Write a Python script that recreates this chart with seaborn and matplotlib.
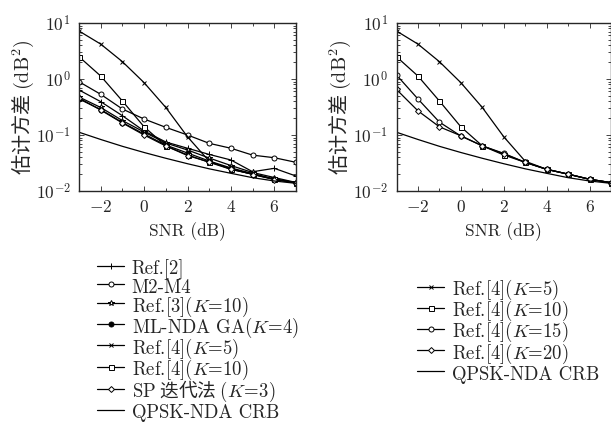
import numpy as np
import pandas as pd
import matplotlib
matplotlib.use('Agg')
import matplotlib.pyplot as plt
import seaborn as sns
from matplotlib.ticker import FixedLocator, FixedFormatter, LogLocator, NullFormatter

# SNR axis (dB)
snr = [-3, -2, -1, 0, 1, 2, 3, 4, 5, 6, 7]

# left panel
ref2 = [0.637, 0.394, 0.221, 0.118, 0.075, 0.058, 0.045, 0.0358, 0.0221, 0.0254, 0.0185]
m2m4 = [0.895, 0.533, 0.291, 0.193, 0.137, 0.100, 0.071, 0.058, 0.0437, 0.0393, 0.0325]
ref3_k10 = [0.477, 0.310, 0.181, 0.113, 0.072, 0.054, 0.0388, 0.0285, 0.0214, 0.0174, 0.0142]
mlnda_k4 = [0.440, 0.285, 0.167, 0.104, 0.066, 0.0477, 0.0343, 0.0258, 0.0205, 0.0164, 0.0141]
sp_k3 = [0.458, 0.279, 0.164, 0.100, 0.0637, 0.043, 0.033, 0.0252, 0.0197, 0.0160, 0.0139]

# Ref.[4] with different K (both panels)
ref4_k5 = [7.2, 4.2, 2.04, 0.86, 0.31, 0.093, 0.034, 0.0244, 0.0200, 0.0162, 0.0141]
ref4_k10 = [2.5, 1.13, 0.405, 0.140, 0.064, 0.044, 0.0325, 0.0244, 0.0200, 0.0162, 0.0141]
ref4_k15 = [1.18, 0.44, 0.170, 0.096, 0.064, 0.047, 0.0325, 0.0244, 0.0200, 0.0162, 0.0141]
ref4_k20 = [0.65, 0.27, 0.140, 0.097, 0.064, 0.046, 0.0325, 0.0244, 0.0200, 0.0162, 0.0141]

# QPSK-NDA CRB
crb = [0.112, 0.0832, 0.0628, 0.0487, 0.0384, 0.0307, 0.0249, 0.0207, 0.0173, 0.0151, 0.0137]

xtick_vals = [-2, 0, 2, 4, 6]
xtick_labels = ['$-2$', '$0$', '$2$', '$4$', '$6$']
ytick_vals = [1e-2, 1e-1, 1e0, 1e1]
ytick_labels = ['$10^{-2}$', '$10^{-1}$', '$10^{0}$', '$10^{1}$']

sns.set_style('ticks')
plt.rcParams['font.family'] = ['cmr10', 'DejaVu Serif']
plt.rcParams['mathtext.fontset'] = 'cm'
plt.rcParams['axes.formatter.use_mathtext'] = True
fs = 12.5
lfs = 13.5
cjk = ['Noto Sans CJK SC']

fig = plt.figure(figsize=(6.11, 4.23), dpi=100)
ax1 = fig.add_axes([79 / 611, 1 - 191 / 423, 217 / 611, 168 / 423])
ax2 = fig.add_axes([396.5 / 611, 1 - 191 / 423, 214.5 / 611, 168 / 423])

# (values, label, marker, filled)
left_series = [
    (ref2, 'Ref.[2]', '+', False),
    (m2m4, 'M2-M4', 'o', False),
    (ref3_k10, 'Ref.[3]($K$=10)', '*', False),
    (mlnda_k4, 'ML-NDA GA($K$=4)', 'o', True),
    (ref4_k5, 'Ref.[4]($K$=5)', 'x', False),
    (ref4_k10, 'Ref.[4]($K$=10)', 's', False),
    (sp_k3, r'$\mathrm{SP}$ 迭代法 $(K\!=\!3)$', 'D', False),
    (crb, 'QPSK-NDA CRB', None, False),
]
right_series = [
    (ref4_k5, 'Ref.[4]($K$=5)', 'x', False),
    (ref4_k10, 'Ref.[4]($K$=10)', 's', False),
    (ref4_k15, 'Ref.[4]($K$=15)', 'o', False),
    (ref4_k20, 'Ref.[4]($K$=20)', 'D', False),
    (crb, 'QPSK-NDA CRB', None, False),
]

msize = {'o': 3.6, 's': 3.6, 'D': 3.0, 'x': 2.6, '+': 4.0, '*': 4.0, None: 0}


def draw(ax, series):
    for vals, lab, mk, filled in series:
        sns.lineplot(x=snr, y=vals, ax=ax, color='k', lw=0.9, marker=mk,
                     markersize=msize[mk], markeredgewidth=0.7,
                     markerfacecolor='k' if filled else 'white',
                     markeredgecolor='k', label=lab, legend=False)
    ax.set_yscale('log')
    ax.set_xlim(-3, 7)
    ax.set_ylim(1e-2, 1e1)
    ax.xaxis.set_major_locator(FixedLocator(xtick_vals))
    ax.xaxis.set_major_formatter(FixedFormatter(xtick_labels))
    ax.xaxis.set_minor_locator(FixedLocator([-1, 1, 3, 5]))
    ax.yaxis.set_major_locator(FixedLocator(ytick_vals))
    ax.yaxis.set_major_formatter(FixedFormatter(ytick_labels))
    ax.yaxis.set_minor_locator(LogLocator(base=10, subs=np.arange(2, 10)))
    ax.yaxis.set_minor_formatter(NullFormatter())
    ax.tick_params(which='both', direction='in', top=True, right=True,
                   labelsize=fs, width=0.6)
    ax.tick_params(which='major', length=3.5, pad=6)
    ax.tick_params(which='minor', length=2)
    for s in ax.spines.values():
        s.set_linewidth(1.0)
    ax.set_xlabel('SNR (dB)', fontsize=fs, labelpad=5)
    ax.set_ylabel(r'估计方差 $(\mathrm{dB}^2)$', fontsize=14.5, labelpad=0,
                  family=cjk)


draw(ax1, left_series)
draw(ax2, right_series)

# uniform row pitch: tall handle box, negative spacing
leg_kw = dict(loc='upper left', frameon=False, fontsize=lfs, handlelength=1.45,
              handletextpad=0.4, handleheight=1.4, labelspacing=-0.16,
              borderaxespad=0, borderpad=0, bbox_transform=fig.transFigure)
leg1 = ax1.legend(bbox_to_anchor=(97 / 611, 1 - 257 / 423), **leg_kw)
leg2 = ax2.legend(bbox_to_anchor=(417 / 611, 1 - 278 / 423), **leg_kw)
leg1.get_texts()[6].set_fontfamily(cjk)

fig.savefig('out.png', dpi=100)
